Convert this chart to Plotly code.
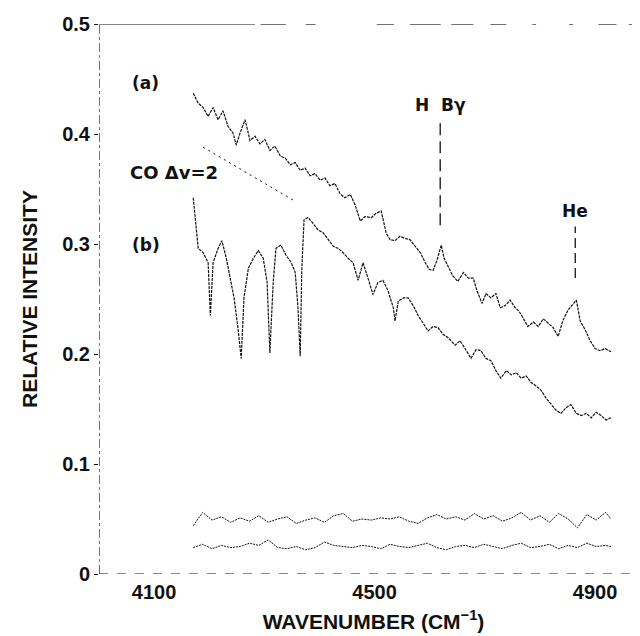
import plotly.graph_objects as go

# ---- data ----
wn_a = [4171, 4180, 4189, 4198, 4207, 4216, 4225, 4234, 4243, 4249, 4256, 4265, 4274, 4283, 4292, 4301,
        4310, 4319, 4329, 4338, 4347, 4356, 4365, 4374, 4383, 4392, 4401, 4410, 4419, 4428, 4437, 4446,
        4456, 4465, 4474, 4483, 4494, 4503, 4512, 4521, 4528, 4537, 4546, 4555, 4564, 4573, 4583, 4592,
        4599, 4606, 4613, 4621, 4626, 4633, 4642, 4651, 4661, 4670, 4679, 4686, 4695, 4702, 4711, 4720,
        4728, 4737, 4746, 4755, 4762, 4769, 4778, 4788, 4797, 4806, 4815, 4824, 4833, 4842, 4851, 4860,
        4866, 4873, 4882, 4891, 4900, 4909, 4918, 4929]
int_a = [.437, .428, .424, .416, .424, .413, .421, .407, .401, .390, .401, .413, .394, .398, .391, .395,
         .385, .389, .380, .378, .372, .374, .367, .369, .362, .364, .358, .360, .353, .355, .346, .342,
         .345, .335, .321, .325, .324, .328, .330, .310, .304, .303, .307, .305, .304, .298, .292, .283,
         .277, .276, .285, .299, .287, .280, .271, .266, .274, .269, .269, .257, .246, .255, .251, .255,
         .242, .244, .249, .242, .239, .233, .225, .229, .225, .232, .228, .224, .216, .231, .240, .245,
         .249, .230, .222, .212, .205, .203, .205, .202]

wn_b = [4171, 4174, 4180, 4189, 4198, 4202, 4207, 4216, 4223, 4231, 4238, 4245, 4252, 4258, 4263, 4271,
        4280, 4289, 4298, 4305, 4310, 4316, 4321, 4330, 4339, 4349, 4356, 4361, 4365, 4368, 4372, 4379,
        4388, 4397, 4407, 4416, 4425, 4434, 4443, 4452, 4461, 4470, 4479, 4488, 4497, 4506, 4515, 4524,
        4534, 4537, 4543, 4552, 4561, 4570, 4579, 4588, 4597, 4606, 4615, 4624, 4633, 4646, 4655, 4664,
        4675, 4684, 4693, 4702, 4711, 4720, 4729, 4739, 4748, 4757, 4766, 4775, 4784, 4793, 4802, 4811,
        4820, 4829, 4838, 4847, 4856, 4866, 4875, 4884, 4893, 4902, 4911, 4920, 4929]
int_b = [.342, .324, .296, .292, .283, .235, .283, .296, .303, .287, .269, .251, .224, .196, .251, .278,
         .287, .294, .287, .265, .201, .265, .296, .299, .290, .283, .274, .242, .198, .278, .322, .324,
         .319, .313, .310, .304, .298, .296, .292, .287, .283, .267, .283, .269, .254, .265, .267, .258,
         .242, .230, .248, .251, .251, .244, .235, .228, .221, .225, .224, .218, .215, .208, .212, .205,
         .196, .204, .203, .196, .194, .185, .178, .185, .181, .183, .178, .180, .174, .171, .167, .160,
         .155, .149, .146, .151, .154, .146, .144, .146, .142, .147, .144, .140, .142]

wn_noise = [4171, 4188, 4205, 4222, 4239, 4256, 4273, 4290, 4307, 4324, 4341, 4358, 4375, 4392, 4409, 4426,
            4443, 4460, 4477, 4494, 4511, 4528, 4545, 4562, 4579, 4596, 4613, 4630, 4647, 4664, 4681, 4698,
            4715, 4732, 4749, 4766, 4783, 4800, 4817, 4834, 4851, 4868, 4885, 4902, 4919, 4929]
noise_upper = [.044, .056, .049, .052, .047, .051, .048, .053, .047, .050, .052, .046, .049, .051, .047, .053,
               .055, .048, .050, .049, .051, .050, .052, .048, .046, .051, .054, .050, .052, .049, .055, .050,
               .053, .048, .051, .056, .049, .053, .047, .055, .050, .042, .054, .049, .056, .050]
noise_lower = [.024, .027, .023, .026, .024, .025, .028, .026, .031, .024, .023, .025, .022, .024, .029, .026,
               .025, .024, .026, .025, .023, .027, .025, .024, .026, .028, .024, .022, .025, .026, .024, .027,
               .025, .023, .026, .028, .024, .025, .027, .023, .026, .024, .028, .025, .026, .025]

co_leader_wn = [4189, 4352]
co_leader_int = [0.388, 0.340]

x_ticks = [4100, 4500, 4900]
y_ticks = [0, 0.1, 0.2, 0.3, 0.4, 0.5]
y_tick_text = ["0", "0.1", "0.2", "0.3", "0.4", "0.5"]

# pieces of the (broken, scanned) top frame line at 0.5
top_frame_pieces = [(4000, 4283), (4293, 4339), (4375, 4393), (4504, 4535), (4564, 4620),
                    (4639, 4679), (4710, 4739), (4786, 4793), (4853, 4860), (4906, 4939), (4961, 4996)]

X_RANGE = [4000, 4996]
Y_RANGE = [0, 0.5]

SANS = "Liberation Sans, Arial, Helvetica, sans-serif"
WIDE = "DejaVu Sans, Liberation Sans, Arial, sans-serif"
ink = "#111111"

fig = go.Figure()

spec_line = dict(color=ink, width=1.2, dash="3px,1px")
for xs, ys in [(wn_a, int_a), (wn_b, int_b)]:
    fig.add_trace(go.Scatter(x=xs, y=ys, mode="lines", line=spec_line,
                             showlegend=False, hoverinfo="skip"))
for ys in [noise_upper, noise_lower]:
    fig.add_trace(go.Scatter(x=wn_noise, y=ys, mode="lines",
                             line=dict(color=ink, width=1.0, dash="2px,1px"),
                             showlegend=False, hoverinfo="skip"))
fig.add_trace(go.Scatter(x=co_leader_wn, y=co_leader_int, mode="lines",
                         line=dict(color=ink, width=1.0, dash="2px,4px"),
                         showlegend=False, hoverinfo="skip"))

# frame lines
for x0, x1 in top_frame_pieces:
    fig.add_shape(type="line", xref="x", yref="y", x0=x0, x1=x1, y0=0.5, y1=0.5,
                  line=dict(color=ink, width=1.2))
fig.add_shape(type="line", xref="x", yref="y", x0=X_RANGE[0], x1=X_RANGE[1], y0=0, y1=0,
              line=dict(color=ink, width=1.2, dash="dash"))
fig.add_shape(type="line", xref="x", yref="y", x0=X_RANGE[0], x1=X_RANGE[0], y0=0, y1=0.5,
              line=dict(color=ink, width=1.2, dash="dashdot"))

# line markers for H Bgamma and He
fig.add_shape(type="line", xref="x", yref="y", x0=4619, x1=4619, y0=0.317, y1=0.415,
              line=dict(color=ink, width=1.3, dash="12px,6px"))
fig.add_shape(type="line", xref="x", yref="y", x0=4864, x1=4864, y0=0.269, y1=0.316,
              line=dict(color=ink, width=1.3, dash="10px,5px"))

annos = [
    ("(a)", 4085, 0.446, 17),
    ("(b)", 4085, 0.299, 17),
    ("CO \u0394v=2", 4136, 0.365, 18),
    ("H\u00a0\u00a0B\u03b3", 4619, 0.426, 17),
    ("He", 4864, 0.330, 17),
]
for text, x, y, sz in annos:
    fig.add_annotation(x=x, y=y, xref="x", yref="y", text=text, showarrow=False,
                       font=dict(family=WIDE, size=sz, color=ink, weight="bold"),
                       xanchor="center", yanchor="middle")

fig.update_layout(
    width=640, height=636,
    margin=dict(l=91, r=0, t=16, b=70),
    paper_bgcolor="white", plot_bgcolor="white",
    font=dict(family=SANS, color=ink),
    xaxis=dict(range=X_RANGE, showgrid=False, zeroline=False, showline=False,
               tickvals=x_ticks, ticks="", ticklabelstandoff=4,
               tickfont=dict(family=SANS, size=20, color=ink, weight="bold"),
               title=dict(text="WAVENUMBER (CM<sup>\u22121</sup>)", standoff=12,
                          font=dict(family=SANS, size=21, color=ink, weight="bold"))),
    yaxis=dict(range=Y_RANGE, showgrid=False, zeroline=False, showline=False,
               tickvals=y_ticks, ticktext=y_tick_text, ticks="outside", ticklen=4, tickcolor=ink,
               tickfont=dict(family=SANS, size=20, color=ink, weight="bold"),
               title=dict(text="RELATIVE INTENSITY", standoff=18,
                          font=dict(family=SANS, size=21, color=ink, weight="bold"))),
)

fig.write_html("out.html")
